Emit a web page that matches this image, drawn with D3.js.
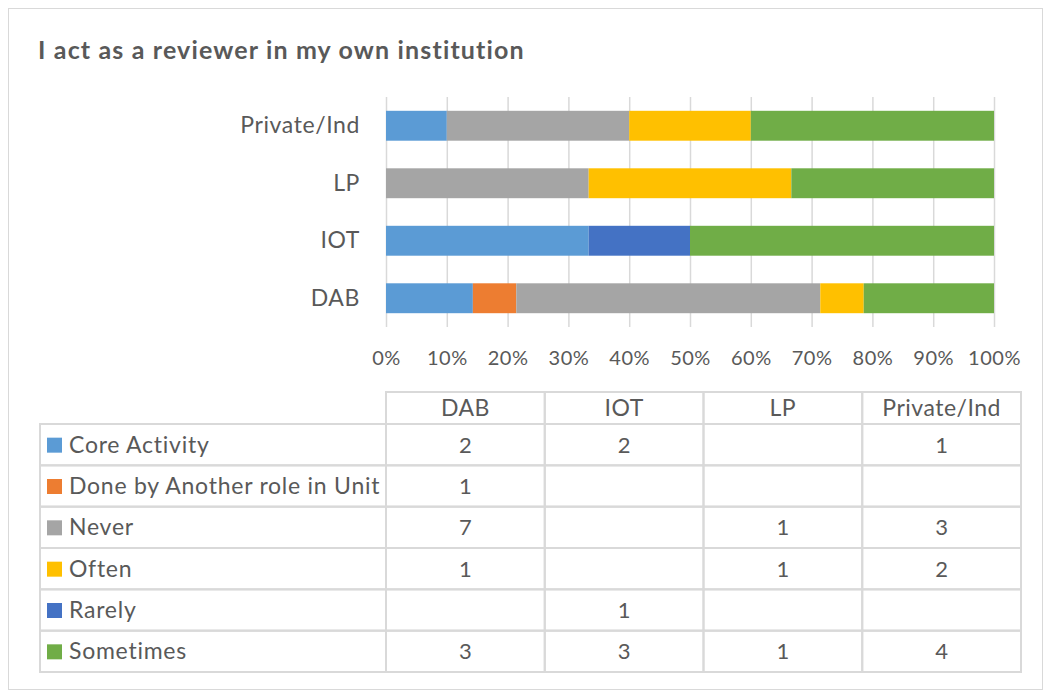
<!DOCTYPE html>
<html>
<head>
<meta charset="utf-8">
<script src="https://cdn.jsdelivr.net/npm/d3@7"></script>
<style>
  body { margin: 0; background: #fff; }
  svg text { font-family: Lato, "Open Sans", sans-serif; fill: #595959; }
</style>
</head>
<body>
<div id="chart"></div>
<script>
// chart data
var categories = ["DAB", "IOT", "LP", "Private/Ind"];
var seriesNames = ["Core Activity", "Done by Another role in Unit", "Never", "Often", "Rarely", "Sometimes"];
var seriesColors = ["#5b9bd5", "#ed7d31", "#a5a5a5", "#ffc000", "#4472c4", "#70ad47"];

// counts per series, in category order (null = empty cell)
var coreActivity = [2, 2, null, 1];
var doneByAnother = [1, null, null, null];
var never = [7, null, 1, 3];
var often = [1, null, 1, 2];
var rarely = [null, 1, null, null];
var sometimes = [3, 3, 1, 4];

var xTicks = [0, 0.1, 0.2, 0.3, 0.4, 0.5, 0.6, 0.7, 0.8, 0.9, 1];

var allValues = [coreActivity, doneByAnother, never, often, rarely, sometimes];

var width = 1052,
    height = 697;

// build rows for d3.stack
var rows = categories.map(function(c, i) {
    var r = { category: c };
    seriesNames.forEach(function(s, j) { r[s] = allValues[j][i] || 0; });
    return r;
});

var stacked = d3.stack()
    .keys(seriesNames)
    .offset(d3.stackOffsetExpand)(rows);

var svg = d3.select("#chart")
    .append("svg")
    .attr("width", width)
    .attr("height", height);

// outer frame
svg.append("rect")
    .attr("x", 8.5)
    .attr("y", 8.5)
    .attr("width", 1034)
    .attr("height", 681)
    .attr("fill", "#fff")
    .attr("stroke", "#d9d9d9")
    .attr("stroke-width", 1);

// title
svg.append("text")
    .attr("x", 38)
    .attr("y", 59)
    .attr("font-size", "25px")
    .attr("font-weight", "bold")
    .style("letter-spacing", "1.15px")
    .text("I act as a reviewer in my own institution");

// scales
var xScale = d3.scaleLinear()
    .domain([0, 1])
    .range([386, 994]);

var yScale = d3.scaleBand()
    .domain(categories.slice().reverse())
    .range([97, 327])
    .paddingInner(0.48)
    .paddingOuter(0.24);

// gridlines
var grid = d3.axisBottom(xScale)
    .tickValues(xTicks)
    .tickSize(-230)
    .tickFormat("");
svg.append("g")
    .attr("class", "grid")
    .attr("transform", "translate(0,327)")
    .call(grid)
    .call(function(g) {
        g.select(".domain").remove();
        g.selectAll("line").attr("stroke", "#d9d9d9").attr("stroke-width", 1.5);
    });

// bars
svg.append("g")
    .selectAll("g")
    .data(stacked)
    .enter()
    .append("g")
    .attr("fill", function(d, i) { return seriesColors[i]; })
    .selectAll("rect")
    .data(function(d) { return d; })
    .enter()
    .append("rect")
    .attr("x", function(d) { return xScale(d[0]); })
    .attr("y", function(d) { return yScale(d.data.category); })
    .attr("width", function(d) { return xScale(d[1]) - xScale(d[0]); })
    .attr("height", yScale.bandwidth());

// x axis labels
var xAxis = d3.axisBottom(xScale)
    .tickValues(xTicks)
    .tickSize(0)
    .tickPadding(0)
    .tickFormat(d3.format(".0%"));
svg.append("g")
    .attr("transform", "translate(0,365)")
    .call(xAxis)
    .call(function(g) {
        g.select(".domain").remove();
        g.selectAll("text")
            .attr("font-size", "20px")
            .attr("font-family", "Lato, sans-serif")
            .attr("fill", "#595959")
            .style("letter-spacing", "0.5px")
            .attr("dy", 0);
    });

// y axis labels
var yAxis = d3.axisLeft(yScale)
    .tickSize(0)
    .tickPadding(26);
svg.append("g")
    .attr("transform", "translate(386,0)")
    .call(yAxis)
    .call(function(g) {
        g.select(".domain").remove();
        g.selectAll("text")
            .attr("font-size", "23px")
            .attr("font-family", "Lato, sans-serif")
            .attr("fill", "#595959")
            .style("letter-spacing", "0.6px");
    });

// data table
var colScale = d3.scaleBand()
    .domain(categories)
    .range([386, 1021]);

var rowScale = d3.scaleBand()
    .domain(seriesNames)
    .range([424, 672]);

var table = svg.append("g").attr("class", "table");

// header cells
table.selectAll("rect.head")
    .data(categories)
    .enter()
    .append("rect")
    .attr("class", "head")
    .attr("x", function(d) { return colScale(d); })
    .attr("y", 392)
    .attr("width", colScale.bandwidth())
    .attr("height", 424 - 392)
    .attr("fill", "none")
    .attr("stroke", "#d9d9d9")
    .attr("stroke-width", 2);

table.selectAll("text.head")
    .data(categories)
    .enter()
    .append("text")
    .attr("class", "head")
    .attr("x", function(d) { return colScale(d) + colScale.bandwidth() / 2; })
    .attr("y", 416)
    .attr("text-anchor", "middle")
    .attr("font-size", "23px")
    .style("letter-spacing", "0.5px")
    .text(function(d) { return d; });

// series rows
var rowG = table.selectAll("g.row")
    .data(seriesNames)
    .enter()
    .append("g")
    .attr("class", "row")
    .attr("transform", function(d) { return "translate(0," + rowScale(d) + ")"; });

rowG.append("rect")
    .attr("x", 40)
    .attr("y", 0)
    .attr("width", 386 - 40)
    .attr("height", rowScale.bandwidth())
    .attr("fill", "none")
    .attr("stroke", "#d9d9d9")
    .attr("stroke-width", 2);

rowG.append("rect")
    .attr("x", 47)
    .attr("y", rowScale.bandwidth() / 2 - 7)
    .attr("width", 15)
    .attr("height", 15)
    .attr("fill", function(d, i) { return seriesColors[i]; });

rowG.append("text")
    .attr("x", 69)
    .attr("y", rowScale.bandwidth() / 2 + 8)
    .attr("font-size", "23px")
    .style("letter-spacing", "0.75px")
    .text(function(d) { return d; });

rowG.selectAll("rect.cell")
    .data(function(d, i) { return categories.map(function(c, k) { return { cat: c, v: allValues[i][k] }; }); })
    .enter()
    .append("rect")
    .attr("class", "cell")
    .attr("x", function(d) { return colScale(d.cat); })
    .attr("y", 0)
    .attr("width", colScale.bandwidth())
    .attr("height", rowScale.bandwidth())
    .attr("fill", "none")
    .attr("stroke", "#d9d9d9")
    .attr("stroke-width", 2);

rowG.selectAll("text.cell")
    .data(function(d, i) { return categories.map(function(c, k) { return { cat: c, v: allValues[i][k] }; }); })
    .enter()
    .append("text")
    .attr("class", "cell")
    .attr("x", function(d) { return colScale(d.cat) + colScale.bandwidth() / 2; })
    .attr("y", rowScale.bandwidth() / 2 + 8)
    .attr("text-anchor", "middle")
    .attr("font-size", "22px")
    .text(function(d) { return d.v == null ? "" : d.v; });
</script>
</body>
</html>
